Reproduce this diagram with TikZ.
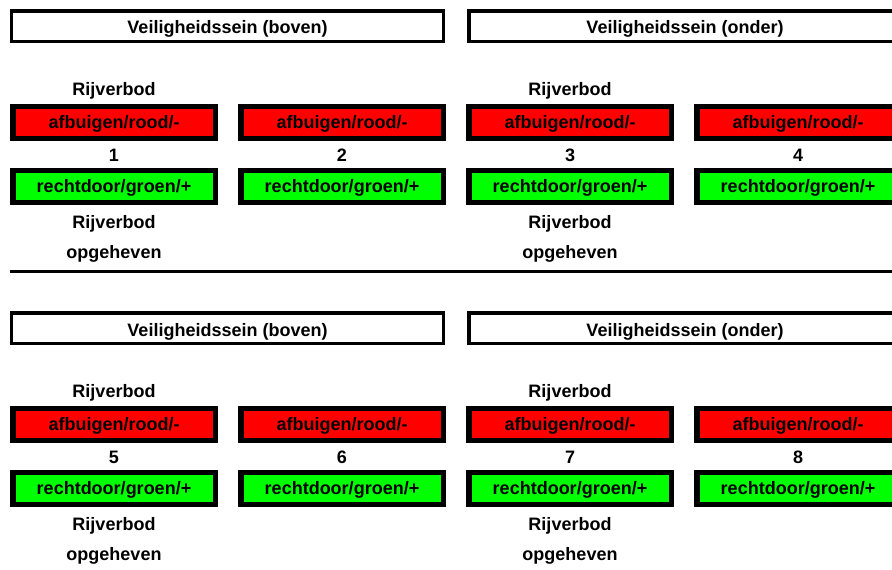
\documentclass[tikz,border=0pt]{standalone}
\usepackage{fontspec}
\setmainfont{Liberation Sans}
\definecolor{rood}{RGB}{255,0,0}
\definecolor{groen}{RGB}{0,255,0}
\tikzset{
	kop/.style={draw, line width=3.5pt, minimum width=432pt, minimum height=30.5pt, inner sep=1pt, text height=16pt, text depth=0pt},
	seinbox/.style={draw, line width=5.5pt, minimum width=202.5pt, minimum height=32pt, inner sep=1pt, text height=13pt, text depth=1pt},
	afbox/.style={seinbox, fill=rood},
	rdbox/.style={seinbox, fill=groen},
	lbl/.style={anchor=base, inner sep=0pt}
}

\begin{document}
\begin{tikzpicture}[x=1pt, y=-1pt, font=\fontsize{18}{21}\selectfont\bfseries]
	\clip (0, 0) rectangle (892, 570);
	% bovenste helft
	\node[kop] (kop1) at (227.5, 26) {Veiligheidssein (boven)};
	\node[kop] (kop2) at (685, 26) {Veiligheidssein (onder)};
	\node[lbl] (rv1) at (114, 95) {Rijverbod};
	\node[lbl] (rv3) at (570, 95) {Rijverbod};
	\node[afbox] (af1) at (114, 122.5) {afbuigen/rood/-};
	\node[afbox] (af2) at (342, 122.5) {afbuigen/rood/-};
	\node[afbox] (af3) at (570, 122.5) {afbuigen/rood/-};
	\node[afbox] (af4) at (798, 122.5) {afbuigen/rood/-};
	\node[lbl] (nr1) at (114, 161) {1};
	\node[lbl] (nr2) at (342, 161) {2};
	\node[lbl] (nr3) at (570, 161) {3};
	\node[lbl] (nr4) at (798, 161) {4};
	\node[rdbox] (rd1) at (114, 186.5) {rechtdoor/groen/+};
	\node[rdbox] (rd2) at (342, 186.5) {rechtdoor/groen/+};
	\node[rdbox] (rd3) at (570, 186.5) {rechtdoor/groen/+};
	\node[rdbox] (rd4) at (798, 186.5) {rechtdoor/groen/+};
	\node[lbl] (op1a) at (114, 228) {Rijverbod};
	\node[lbl] (op1b) at (114, 258) {opgeheven};
	\node[lbl] (op3a) at (570, 228) {Rijverbod};
	\node[lbl] (op3b) at (570, 258) {opgeheven};
	\draw[line width=3.5pt] (10, 271.5) -- (892, 271.5);
	% onderste helft
	\node[kop] (kop3) at (227.5, 328) {Veiligheidssein (boven)};
	\node[kop] (kop4) at (685, 328) {Veiligheidssein (onder)};
	\node[lbl] (rv5) at (114, 397) {Rijverbod};
	\node[lbl] (rv7) at (570, 397) {Rijverbod};
	\node[afbox] (af5) at (114, 424.5) {afbuigen/rood/-};
	\node[afbox] (af6) at (342, 424.5) {afbuigen/rood/-};
	\node[afbox] (af7) at (570, 424.5) {afbuigen/rood/-};
	\node[afbox] (af8) at (798, 424.5) {afbuigen/rood/-};
	\node[lbl] (nr5) at (114, 463) {5};
	\node[lbl] (nr6) at (342, 463) {6};
	\node[lbl] (nr7) at (570, 463) {7};
	\node[lbl] (nr8) at (798, 463) {8};
	\node[rdbox] (rd5) at (114, 488.5) {rechtdoor/groen/+};
	\node[rdbox] (rd6) at (342, 488.5) {rechtdoor/groen/+};
	\node[rdbox] (rd7) at (570, 488.5) {rechtdoor/groen/+};
	\node[rdbox] (rd8) at (798, 488.5) {rechtdoor/groen/+};
	\node[lbl] (op5a) at (114, 530) {Rijverbod};
	\node[lbl] (op5b) at (114, 560) {opgeheven};
	\node[lbl] (op7a) at (570, 530) {Rijverbod};
	\node[lbl] (op7b) at (570, 560) {opgeheven};
\end{tikzpicture}
\end{document}
